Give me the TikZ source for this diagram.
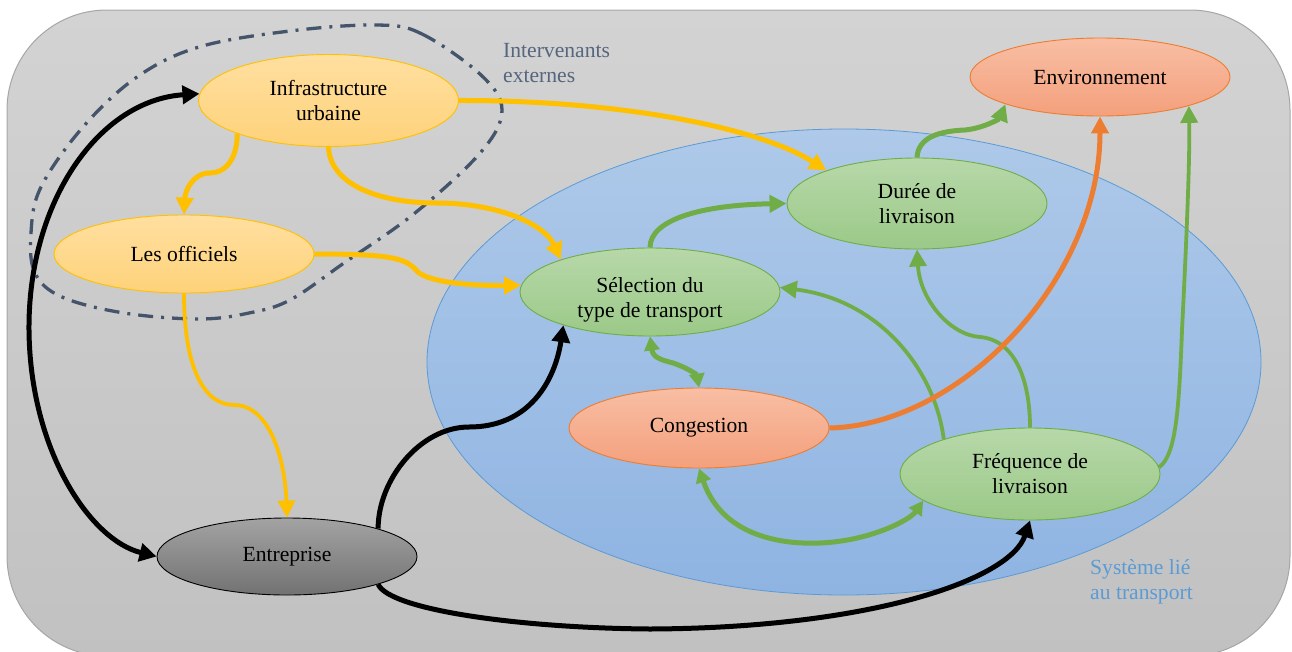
\documentclass[tikz,border=0pt]{standalone}
\usepackage{fontspec}
\setmainfont{Liberation Serif}
\usetikzlibrary{arrows.meta,shapes.geometric}
\definecolor{bgtop}{HTML}{D3D3D3}
\definecolor{bgbot}{HTML}{C1C1C1}
\definecolor{bgline}{HTML}{A6A6A6}
\definecolor{systop}{HTML}{AEC9E9}
\definecolor{sysbot}{HTML}{8FB4E2}
\definecolor{sysline}{HTML}{5B9BD5}
\definecolor{ytop}{HTML}{FFDFA0}
\definecolor{ybot}{HTML}{FED27A}
\definecolor{yline}{HTML}{FFC000}
\definecolor{gtop}{HTML}{B7D8A9}
\definecolor{gbot}{HTML}{9BC988}
\definecolor{gline}{HTML}{70AD47}
\definecolor{stop}{HTML}{F8BEA4}
\definecolor{sbot}{HTML}{F4A07C}
\definecolor{sline}{HTML}{ED7D31}
\definecolor{dtop}{HTML}{A3A3A3}
\definecolor{dbot}{HTML}{727272}
\definecolor{slate}{HTML}{44546A}
\definecolor{slatetext}{HTML}{56667E}
\begin{document}
\begin{tikzpicture}[x=1pt,y=-1pt,
  box/.style={ellipse, inner sep=0pt, minimum width=260pt, align=center,
    font=\fontsize{21.6}{25}\selectfont, text=black, line width=0.9pt},
  ybox/.style={box, top color=ytop, bottom color=ybot, draw=yline},
  gbox/.style={box, top color=gtop, bottom color=gbot, draw=gline},
  sbox/.style={box, top color=stop, bottom color=sbot, draw=sline},
  dbox/.style={box, top color=dtop, bottom color=dbot, draw=black},
  conn/.style={line width=5pt},
  thin conn/.style={line width=3.8pt},
  ylw/.style={draw=yline, -{Triangle[length=17pt,width=17pt]}},
  grn/.style={draw=gline, -{Triangle[length=17pt,width=17pt]}},
  grn2/.style={draw=gline, {Triangle[length=14pt,width=15pt]}-{Triangle[length=14pt,width=15pt]}},
  blk/.style={draw=black, -{Triangle[length=17pt,width=18pt]}},
  org/.style={draw=sline, -{Triangle[length=17pt,width=17pt]}},
  lbl/.style={align=left, anchor=west, inner sep=0pt, font=\fontsize{21.6}{25}\selectfont},
  dashdot/.style={draw=slate, line width=3.3pt, dash pattern=on 15pt off 8pt on 3pt off 8pt}
]
\useasboundingbox (0,0) rectangle (1292,651);
% background panel
\path[top color=bgtop, bottom color=bgbot, draw=bgline, line width=1pt, rounded corners=100pt]
  (7,10) rectangle (1290,656);
% transport system ellipse
\node[ellipse, minimum width=834pt, minimum height=466pt, inner sep=0pt,
  top color=systop, bottom color=sysbot, draw=sysline, line width=0.8pt] (sys) at (844,362) {};
\node[lbl, text=slatetext] (lblext) at (503,63) {Intervenants\\externes};
\node[lbl, text=sysline] (lblsys) at (1090,582) {Système lié\\au transport};
% external stakeholders boundary
\draw[dashdot] plot[smooth cycle, tension=0.6] coordinates {
  (377,25) (422,34) (481,75) (502,110) (481,152) (415,213) (344,263) (290,300)
  (249,313) (199,319) (124,313) (62,297) (35,273) (31,233) (41,187) (83,127)
  (137,77) (199,47) (290,31)};
% nodes
\node[ybox, minimum height=92pt] (infra) at (328.5,100.5) {Infrastructure\\urbaine};
\node[ybox, minimum height=78pt] (offic) at (184,254) {Les officiels};
\node[dbox, minimum height=77pt] (entr) at (287,556.5) {Entreprise};
\node[sbox, minimum height=78pt] (env) at (1100,77) {Environnement};
\node[gbox, minimum height=91pt] (duree) at (917,203.5) {Durée de\\livraison};
\node[gbox, minimum height=88pt] (sel) at (650,292) {\rule{0pt}{30pt}Sélection du\\type de transport};
\node[sbox, minimum height=80pt] (cong) at (699,428) {Congestion};
\node[gbox, minimum height=92pt] (freq) at (1030,474) {Fréquence de\\livraison};
% yellow connectors
\draw[conn, ylw] (infra.east) .. controls (620,100) and (760,128) .. (duree.160.5);
\draw[conn, ylw] (infra.south) .. controls (330,185) and (380,203) .. (436,203)
  .. controls (500,203) and (545,225) .. (sel.160.8);
\draw[conn, ylw] (infra.-160.6) .. controls (237,160) and (225,173) .. (210,173)
  .. controls (192,173) and (185,192) .. (offic.north);
\draw[conn, ylw] (offic.east) .. controls (390,254) and (405,258) .. (416,270)
  .. controls (425,282) and (470,286) .. (sel.177);
\draw[thin conn, ylw] (offic.south) .. controls (184,370) and (205,405) .. (234,405)
  .. controls (270,405) and (285,460) .. (entr.north);
% black connectors
\draw[conn, draw=black, {Triangle[length=17pt,width=18pt]}-{Triangle[length=17pt,width=18pt]}]
  (infra.177) .. controls (100,100) and (28,200) .. (29,330)
  .. controls (30,450) and (90,540) .. (entr.west);
\draw[conn, blk] (entr.17.4) .. controls (378,480) and (420,427) .. (469,427)
  .. controls (530,427) and (555,380) .. (sel.-159);
\draw[conn, blk] (entr.-17.4) .. controls (390,610) and (520,628) .. (650,629)
  .. controls (870,628) and (1010,580) .. (freq.south);
% green connectors
\draw[conn, grn] (sel.north) .. controls (650,220) and (700,205) .. (duree.west);
\draw[conn, grn] (duree.north) .. controls (918,137) and (940,131) .. (965,130)
  .. controls (985,128) and (1000,118) .. (env.196.8);
\draw[thin conn, grn] (freq.3) .. controls (1176,455) and (1179,410) .. (1182,330)
  .. controls (1186,250) and (1190,160) .. (env.-18);
\draw[thin conn, grn] (freq.158.6) .. controls (935,370) and (880,300) .. (sel.2);
\draw[thin conn, grn] (freq.north) .. controls (1030,380) and (1015,340) .. (980,337)
  .. controls (950,335) and (920,300) .. (duree.south);
\draw[conn, grn2] (sel.south) .. controls (653,358) and (662,360) .. (673,363)
  .. controls (688,368) and (697,375) .. (cong.north);
\draw[conn, grn2] (cong.south) .. controls (720,530) and (770,545) .. (820,543)
  .. controls (870,541) and (910,520) .. (freq.194);
% orange connector
\draw[conn, org] (cong.east) .. controls (960,425) and (1100,280) .. (env.south);
\end{tikzpicture}
\end{document}
